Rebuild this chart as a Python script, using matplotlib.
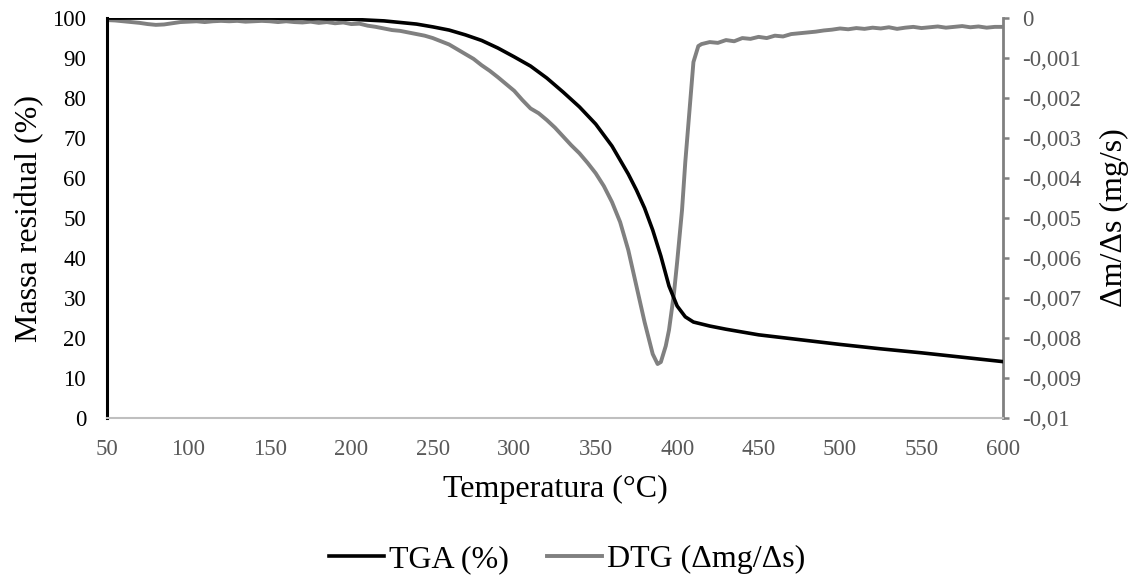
import matplotlib.pyplot as plt

plt.rcParams['font.family'] = ['Liberation Serif', 'DejaVu Serif']

# TGA curve, residual mass (%) vs temperature (C)
tga_temp = [50, 100, 150, 200, 220, 240, 250, 260, 270, 280, 290, 300, 310, 320,
            330, 340, 350, 360, 370, 375, 380, 385, 390, 395, 400, 405, 410, 420,
            430, 440, 450, 475, 500, 525, 550, 575, 600]
tga_mass = [100, 100, 100, 99.7, 99.3, 98.5, 97.8, 97.0, 95.8, 94.4, 92.5, 90.3, 88.0, 85.0,
            81.5, 77.8, 73.5, 68.0, 61.0, 57.0, 52.5, 47.0, 40.5, 33.0, 28.0, 25.3, 24.0, 23.0,
            22.2, 21.5, 20.8, 19.6, 18.4, 17.3, 16.3, 15.2, 14.1]

# DTG curve, dm/ds (mg/s)
dtg_temp = [50, 55, 60, 65, 70, 75, 80, 85, 90, 95, 100, 105, 110, 115, 120, 125, 130,
            135, 140, 145, 150, 155, 160, 165, 170, 175, 180, 185, 190, 195, 200, 205,
            210, 215, 220, 225, 230, 235, 240, 245, 250, 255, 260, 265, 270, 275, 280,
            285, 290, 295, 300, 305, 310, 315, 320, 325, 330, 335, 340, 345, 350, 355,
            360, 365, 370, 375, 380, 385, 388, 390, 393, 395, 398, 400, 403, 405, 408,
            410, 413, 415, 420, 425, 430, 435, 440, 445, 450, 455, 460, 465, 470, 475,
            480, 485, 490, 495, 500, 505, 510, 515, 520, 525, 530, 535, 540, 545, 550,
            555, 560, 565, 570, 575, 580, 585, 590, 595, 600]
dtg_rate = [-0.00005, -0.00006, -0.00008, -0.0001, -0.00012, -0.00015, -0.00017, -0.00016,
            -0.00013, -0.0001, -0.00009, -0.00008, -0.0001, -0.00008, -0.00007, -0.00008,
            -0.00007, -0.00009, -0.00008, -0.00007, -0.00008, -0.0001, -0.00008, -0.0001,
            -0.00011, -0.00009, -0.00012, -0.0001, -0.00013, -0.00011, -0.00015, -0.00014,
            -0.00019, -0.00022, -0.00026, -0.0003, -0.00032, -0.00036, -0.0004, -0.00044,
            -0.0005, -0.00058, -0.00066, -0.00078, -0.0009, -0.00102, -0.00118, -0.00132,
            -0.00148, -0.00165, -0.00182, -0.00205, -0.00226, -0.00238, -0.00255, -0.00274,
            -0.00296, -0.00318, -0.00338, -0.00362, -0.00388, -0.0042, -0.0046, -0.0051,
            -0.0058, -0.0067, -0.0076, -0.0084, -0.00865, -0.0086, -0.0082, -0.0078,
            -0.0069, -0.0061, -0.0048, -0.0036, -0.0021, -0.0011, -0.0007, -0.00065,
            -0.0006, -0.00062, -0.00055, -0.00058, -0.0005, -0.00052, -0.00047, -0.0005,
            -0.00044, -0.00046, -0.0004, -0.00038, -0.00036, -0.00034, -0.00031, -0.00029,
            -0.00026, -0.00028, -0.00025, -0.00027, -0.00024, -0.00026, -0.00023, -0.00027,
            -0.00024, -0.00022, -0.00025, -0.00023, -0.00021, -0.00024, -0.00022, -0.0002,
            -0.00023, -0.00021, -0.00024, -0.00022, -0.00022]

x_ticks = list(range(50, 601, 50))
left_ticks = list(range(0, 101, 10))
right_ticks = [-0.01, -0.009, -0.008, -0.007, -0.006, -0.005, -0.004, -0.003, -0.002, -0.001, 0]
right_labels = ['-0,01', '-0,009', '-0,008', '-0,007', '-0,006', '-0,005', '-0,004',
                '-0,003', '-0,002', '-0,001', '0']

fig = plt.figure(figsize=(11.37, 5.83), dpi=100)
ax = fig.add_axes([0.0941, 0.283, 0.788, 0.686])
ax2 = ax.twinx()

l1, = ax.plot(tga_temp, tga_mass, color='black', lw=2.6, label='TGA (%)', zorder=3)
l2, = ax2.plot(dtg_temp, dtg_rate, color='#808080', lw=2.8, label='DTG (\u0394mg/\u0394s)')
ax.set_zorder(ax2.get_zorder() + 1)
ax.patch.set_visible(False)

ax.set_xlim(50, 600)
ax.set_ylim(0, 100)
ax2.set_ylim(-0.01, 0)

ax.set_xticks(x_ticks)
ax.set_yticks(left_ticks)
ax2.set_yticks(right_ticks)
ax2.set_yticklabels(right_labels)

for a in (ax, ax2):
    a.spines['top'].set_visible(False)
ax.spines['right'].set_visible(False)
ax2.spines['left'].set_visible(False)
ax2.spines['bottom'].set_visible(False)
ax.spines['left'].set_color('black')
ax.spines['left'].set_linewidth(2.2)
ax.spines['bottom'].set_color('#bfbfbf')
ax.spines['bottom'].set_linewidth(1.5)
ax2.spines['right'].set_color('#808080')
ax2.spines['right'].set_linewidth(2.0)

ax.tick_params(axis='x', length=0, pad=15, labelsize=16.5, labelcolor='#595959')
ax.tick_params(axis='y', length=0, pad=15, labelsize=16.5, labelcolor='black')
ax2.tick_params(axis='y', length=4, width=1.8, color='#808080', pad=10,
                labelsize=16.5, labelcolor='#595959')

ax.set_xlabel('Temperatura (\u00b0C)', fontsize=23, labelpad=11)
ax.set_ylabel('Massa residual (%)', fontsize=23, labelpad=6)
ax2.set_ylabel('\u0394m/\u0394s (mg/s)', fontsize=23, labelpad=13)

fig.legend(handles=[l1, l2], loc='center', bbox_to_anchor=(0.4987, 0.04), ncol=2,
           frameon=False, fontsize=23, handlelength=1.72, handletextpad=0.15,
           columnspacing=1.2)

fig.savefig('out.png', dpi=100)
